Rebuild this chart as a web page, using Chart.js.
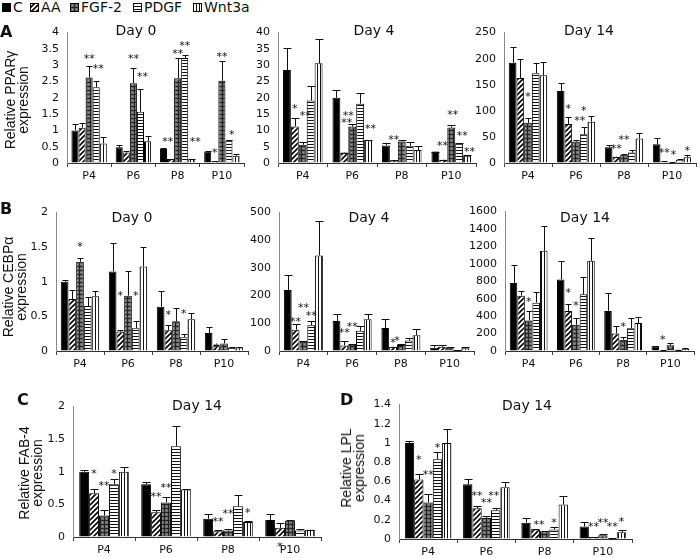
<!DOCTYPE html>
<html>
<head>
<meta charset="utf-8">
<script src="https://cdn.jsdelivr.net/npm/chart.js@4.4.1/dist/chart.umd.min.js"></script>
<style>
  body { margin: 0; background: #fff; }
  #fig { position: relative; width: 700px; height: 558px; overflow: hidden; color: #111; font-family: "DejaVu Sans", sans-serif; }
  #fig canvas.chart { position: absolute; }
  .lbl { position: absolute; white-space: nowrap; }
  .day { font-size: 14px; line-height: 14px; transform: translateX(-50%); }
  .letter { font-size: 16px; line-height: 16px; font-weight: bold; }
  .ytitle { font-family: "Liberation Sans", Arial, sans-serif; font-size: 14px; line-height: 13px; text-align: center; transform: translate(-50%, -50%) rotate(-90deg); }
  .legtext { font-size: 14px; line-height: 14px; top: 0; }
  .swatch { position: absolute; top: 3px; }
</style>
</head>
<body>
<div id="fig"></div>
<script>
// categories and series
const categories = ['P4', 'P6', 'P8', 'P10'];
const seriesNames = ['C', 'AA', 'FGF-2', 'PDGF', 'Wnt3a'];

// A: PPARγ, rows = series (C, AA, FGF-2, PDGF, Wnt3a), cols = P4..P10
const pparDay0 = [
  [1.00, 0.48, 0.43, 0.35],
  [1.08, 0.32, 0.12, 0.05],
  [2.62, 2.45, 2.60, 2.52],
  [2.32, 1.57, 3.22, 0.70],
  [0.60, 0.67, 0.12, 0.22]
];
const pparDay0Sd = [
  [0.20, 0.07, 0.02, 0.02],
  [0.14, 0.04, 0.01, 0.01],
  [0.36, 0.45, 0.62, 0.60],
  [0.20, 0.71, 0.10, 0.02],
  [0.20, 0.15, 0.01, 0.05]
];
// [category, series position, level, text]
const pparDay0Stars = [[0, 2, 3.3, '**'], [0, 3.3, 3.0, '**'], [1, 2, 3.3, '**'], [1, 3.3, 2.75, '**'],
  [2, 0.6, 0.76, '**'], [2, 2, 3.45, '**'], [2, 3, 3.7, '**'], [2, 4.5, 0.76, '**'],
  [3, 1, 0.4, '*'], [3, 2, 3.35, '**'], [3, 3.4, 0.98, '*']];

const pparDay4 = [
  [28.5, 20.0, 5.4, 3.5],
  [11.2, 3.2, 0.8, 1.0],
  [5.6, 11.2, 6.6, 10.9],
  [19.2, 18.2, 5.3, 6.0],
  [30.6, 7.0, 4.0, 2.2]
];
const pparDay4Sd = [
  [6.8, 2.3, 0.8, 0],
  [2.6, 0, 0, 0],
  [0.9, 0.8, 0.6, 0.8],
  [4.4, 3.2, 1.0, 0.2],
  [7.4, 0, 1.2, 0.3]
];
const pparDay4Stars = [[0, 1, 17.7, '*'], [0, 2.3, 15.5, '**'], [1, 1.5, 15.5, '**'], [1, 1.3, 13.4, '**'],
  [1, 4.3, 11.6, '**'], [2, 1, 8.1, '**'], [3, 0.9, 6.3, '**'], [3, 2.2, 15.7, '**'],
  [3, 3.4, 9.3, '**'], [3, 4.3, 4.3, '**']];

const pparDay14 = [
  [192, 138, 30, 36],
  [163, 75, 12, 3],
  [77, 41, 16, 1],
  [172, 55, 20, 6],
  [168, 79, 47, 11]
];
const pparDay14Sd = [
  [30, 16, 5, 11],
  [37, 13, 0, 0],
  [10, 4, 1, 0],
  [20, 14, 4, 1],
  [25, 11, 11, 4]
];
const pparDay14Stars = [[0, 2, 133, '*'], [1, 1, 111, '*'], [1, 3, 107, '*'], [1, 2.5, 88, '**'],
  [2, 2, 50, '**'], [2, 1, 34, '**'], [3, 1, 25, '**'], [3, 2.2, 22, '*'], [3, 4, 30, '*']];

// B: CEBPα
const cebpDay0 = [
  [1.00, 1.15, 0.64, 0.26],
  [0.75, 0.28, 0.30, 0.07],
  [1.29, 0.80, 0.43, 0.11],
  [0.65, 0.33, 0.20, 0.05],
  [0.79, 1.22, 0.46, 0.05]
];
const cebpDay0Sd = [
  [0.02, 0.41, 0.22, 0.09],
  [0.13, 0.02, 0.08, 0.01],
  [0.06, 0.35, 0.19, 0.06],
  [0.13, 0.10, 0.05, 0.01],
  [0.07, 0.28, 0.09, 0.01]
];
const cebpDay0Stars = [[0, 2, 1.55, '*'], [1, 1, 0.84, '*'], [1, 3, 0.84, '*'], [2, 1, 0.57, '*'],
  [2, 3, 0.58, '*'], [3, 1, 0.1, '*']];

const cebpDay4 = [
  [220, 108, 83, 12],
  [77, 20, 15, 15],
  [33, 23, 22, 12],
  [93, 73, 38, 3],
  [345, 115, 57, 10]
];
const cebpDay4Sd = [
  [55, 25, 34, 8],
  [20, 15, 0, 5],
  [4, 2, 3, 1],
  [17, 19, 10, 0],
  [125, 20, 23, 3]
];
const cebpDay4Stars = [[0, 1, 117, '**'], [0, 2, 167, '**'], [0, 3, 140, '**'], [1, 1, 78, '**'],
  [1, 2, 98, '**'], [2, 1, 40, '*'], [2, 1.5, 48, '*']];

const cebpDay14 = [
  [780, 820, 460, 55],
  [635, 460, 200, 10],
  [350, 300, 130, 65],
  [555, 650, 260, 15],
  [1150, 1035, 320, 25]
];
const cebpDay14Sd = [
  [205, 215, 200, 0],
  [55, 80, 90, 0],
  [105, 75, 30, 30],
  [125, 200, 120, 0],
  [285, 265, 70, 5]
];
const cebpDay14Stars = [[0, 2, 600, '*'], [1, 1, 710, '*'], [1, 2, 560, '*'], [2, 2, 310, '*'], [3, 1, 163, '*']];

// C: FAB-4 day 14
const fab4Day14 = [
  [1.00, 0.81, 0.28, 0.26],
  [0.67, 0.38, 0.09, 0.14],
  [0.33, 0.53, 0.10, 0.25],
  [0.81, 1.39, 0.47, 0.10],
  [1.00, 0.73, 0.23, 0.11]
];
const fab4Day14Sd = [
  [0.02, 0.04, 0.08, 0.10],
  [0.07, 0.03, 0.01, 0.07],
  [0.09, 0.08, 0.02, 0.01],
  [0.08, 0.32, 0.17, 0.02],
  [0.08, 0.01, 0.01, 0]
];
const fab4Day14Stars = [[0, 1, 1.02, '*'], [0, 2, 0.83, '**'], [0, 3, 1.02, '*'], [1, 1, 0.66, '**'],
  [1, 2, 0.8, '**'], [2, 1, 0.29, '**'], [2, 2, 0.41, '**'], [2, 4, 0.42, '*'], [3, 1, -0.1, '*']];

// D: LPL day 14
const lplDay14 = [
  [1.00, 0.57, 0.17, 0.13],
  [0.62, 0.32, 0.10, 0.02],
  [0.38, 0.22, 0.08, 0.04],
  [0.83, 0.30, 0.10, 0.01],
  [1.00, 0.54, 0.36, 0.07]
];
const lplDay14Sd = [
  [0.02, 0.05, 0.05, 0.05],
  [0.06, 0.02, 0, 0],
  [0.09, 0.02, 0, 0.01],
  [0.08, 0.02, 0.02, 0],
  [0.15, 0.05, 0.09, 0.02]
];
const lplDay14Stars = [[0, 1, 0.86, '*'], [0, 2, 0.7, '**'], [0, 3, 0.98, '*'], [1, 1, 0.48, '**'],
  [1, 2, 0.41, '**'], [1, 2.8, 0.48, '**'], [2, 1.4, 0.18, '**'], [2, 3, 0.2, '*'],
  [3, 1, 0.16, '**'], [3, 2, 0.2, '**'], [3, 3, 0.16, '**'], [3, 4, 0.21, '*']];

// fill patterns, one per series
function makeFill(kind) {
  if (kind === 'solid') return '#000';
  const c = document.createElement('canvas');
  const g = c.getContext('2d');
  if (kind === 'diag') {
    c.width = c.height = 5;
    g.fillStyle = '#fff'; g.fillRect(0, 0, 5, 5);
    g.strokeStyle = '#000'; g.lineWidth = 1.6;
    g.beginPath();
    g.moveTo(-1, 6); g.lineTo(6, -1);
    g.moveTo(-1, 1); g.lineTo(1, -1);
    g.moveTo(4, 6); g.lineTo(6, 4);
    g.stroke();
  } else if (kind === 'check') {
    c.width = c.height = 4;
    g.fillStyle = '#6c6c6c'; g.fillRect(0, 0, 4, 4);
    g.fillStyle = '#222'; g.fillRect(0, 0, 4, 1); g.fillRect(0, 0, 1, 4);
    g.fillStyle = '#9a9a9a'; g.fillRect(2, 2, 1, 1);
  } else if (kind === 'hlines') {
    c.width = c.height = 3;
    g.fillStyle = '#fff'; g.fillRect(0, 0, 3, 3);
    g.fillStyle = '#111'; g.fillRect(0, 0, 3, 1);
  } else if (kind === 'vlines') {
    c.width = c.height = 3;
    g.fillStyle = '#fff'; g.fillRect(0, 0, 3, 3);
    g.fillStyle = '#111'; g.fillRect(0, 0, 1, 3);
  }
  return g.createPattern(c, 'repeat');
}
const fills = ['solid', 'diag', 'check', 'hlines', 'vlines'].map(makeFill);

const fig = document.getElementById('fig');

function addLabel(cls, text, x, y) {
  const d = document.createElement('div');
  d.className = 'lbl ' + cls;
  d.innerHTML = text;
  d.style.left = x + 'px';
  d.style.top = y + 'px';
  fig.appendChild(d);
}

// legend along the top
const legendX = [2, 30, 70, 133, 193];
seriesNames.forEach((name, i) => {
  const sw = document.createElement('canvas');
  sw.width = 9; sw.height = 9;
  sw.className = 'swatch';
  sw.style.left = legendX[i] + 'px';
  const g = sw.getContext('2d');
  g.fillStyle = fills[i]; g.fillRect(0, 0, 9, 9);
  g.strokeStyle = '#000'; g.strokeRect(0.5, 0.5, 8, 8);
  fig.appendChild(sw);
  addLabel('legtext', name, legendX[i] + 11, 0);
});

// error bars + asterisks
function marksPlugin(stars) {
  return {
    id: 'marks',
    afterDatasetsDraw(chart) {
      const ctx = chart.ctx, y = chart.scales.y;
      ctx.save();
      ctx.strokeStyle = '#111';
      ctx.lineWidth = 1;
      chart.data.datasets.forEach((ds, di) => {
        chart.getDatasetMeta(di).data.forEach((bar, i) => {
          const top = Math.round(y.getPixelForValue(ds.data[i] + ds.sd[i])) + 0.5;
          const x = Math.round(bar.x) + 0.5;
          const half = Math.round(bar.width * 0.45);
          ctx.beginPath();
          ctx.moveTo(x, bar.y); ctx.lineTo(x, top);
          ctx.moveTo(x - half, top); ctx.lineTo(x + half, top);
          ctx.stroke();
        });
      });
      ctx.fillStyle = '#111';
      ctx.font = '11px "DejaVu Sans"';
      ctx.textAlign = 'center';
      ctx.textBaseline = 'alphabetic';
      stars.forEach(([cat, s, lvl, txt]) => {
        const i0 = Math.min(Math.floor(s), 4);
        const b = chart.getDatasetMeta(i0).data[cat];
        const x = b.x + (s - i0) * b.width;
        ctx.fillText(txt, x, y.getPixelForValue(lvl) + 6.5);
      });
      ctx.restore();
    }
  };
}

const fmt = v => String(Number(v.toFixed(2)));

function makePanel(p) {
  const left = p.ax - 45, top = p.top - 14;
  const cv = document.createElement('canvas');
  cv.className = 'chart';
  cv.width = p.right + 12 - left;
  cv.height = p.zero + 26 - top;
  cv.style.left = left + 'px';
  cv.style.top = top + 'px';
  fig.appendChild(cv);
  new Chart(cv, {
    type: 'bar',
    data: {
      labels: categories,
      datasets: seriesNames.map((name, s) => ({
        label: name,
        data: p.means[s],
        sd: p.sd[s],
        backgroundColor: fills[s],
        borderColor: '#000',
        borderWidth: 1,
        categoryPercentage: 0.8,
        barPercentage: 1.0
      }))
    },
    options: {
      responsive: false,
      animation: false,
      devicePixelRatio: 1,
      events: [],
      layout: { padding: { top: 14, right: 12, left: 0, bottom: 2 } },
      plugins: { legend: { display: false }, tooltip: { enabled: false } },
      scales: {
        x: {
          grid: { display: true, drawOnChartArea: false, drawTicks: true, tickLength: 4, offset: true, color: '#444' },
          border: { color: '#333', width: 1 },
          ticks: { padding: 3, color: '#111', font: { size: 11 } },
          afterFit: s => { s.height = 24; }
        },
        y: {
          min: 0,
          max: p.max,
          grid: { display: true, drawOnChartArea: false, drawTicks: false },
          border: { color: '#888', width: 1 },
          ticks: { stepSize: p.step, padding: 8, color: '#111', font: { size: 11 }, callback: fmt },
          afterFit: s => { s.width = 45; }
        }
      }
    },
    plugins: [marksPlugin(p.stars)]
  });
}

Chart.defaults.font.family = '"DejaVu Sans", sans-serif';

[
  { means: pparDay0, sd: pparDay0Sd, stars: pparDay0Stars, max: 4, step: 0.5, ax: 67, top: 32, zero: 163, right: 244 },
  { means: pparDay4, sd: pparDay4Sd, stars: pparDay4Stars, max: 40, step: 5, ax: 278, top: 32, zero: 163, right: 476 },
  { means: pparDay14, sd: pparDay14Sd, stars: pparDay14Stars, max: 250, step: 50, ax: 504, top: 32, zero: 163, right: 696 },
  { means: cebpDay0, sd: cebpDay0Sd, stars: cebpDay0Stars, max: 2, step: 0.5, ax: 56, top: 212, zero: 351, right: 248 },
  { means: cebpDay4, sd: cebpDay4Sd, stars: cebpDay4Stars, max: 500, step: 100, ax: 279, top: 212, zero: 351, right: 474 },
  { means: cebpDay14, sd: cebpDay14Sd, stars: cebpDay14Stars, max: 1600, step: 200, ax: 505, top: 211, zero: 351, right: 694 },
  { means: fab4Day14, sd: fab4Day14Sd, stars: fab4Day14Stars, max: 2, step: 0.5, ax: 73, top: 406, zero: 537, right: 321 },
  { means: lplDay14, sd: lplDay14Sd, stars: lplDay14Stars, max: 1.4, step: 0.2, ax: 399, top: 404, zero: 539, right: 632 }
].forEach(makePanel);

// titles, panel letters, axis titles
addLabel('day', 'Day 0', 136, 23);
addLabel('day', 'Day 4', 374, 23);
addLabel('day', 'Day 14', 589, 23);
addLabel('day', 'Day 0', 132, 210);
addLabel('day', 'Day 4', 369, 210);
addLabel('day', 'Day 14', 585, 210);
addLabel('day', 'Day 14', 197, 398);
addLabel('day', 'Day 14', 527, 398);

addLabel('letter', 'A', 0, 24);
addLabel('letter', 'B', 0, 201);
addLabel('letter', 'C', 17, 392);
addLabel('letter', 'D', 340, 392);

addLabel('ytitle', 'Relative PPARγ<br>expression', 17, 100);
addLabel('ytitle', 'Relative CEBPα<br>expression', 15, 287);
addLabel('ytitle', 'Relative FAB-4<br>expression', 31, 473);
addLabel('ytitle', 'Relative LPL<br>expression', 353, 468);
</script>
</body>
</html>
